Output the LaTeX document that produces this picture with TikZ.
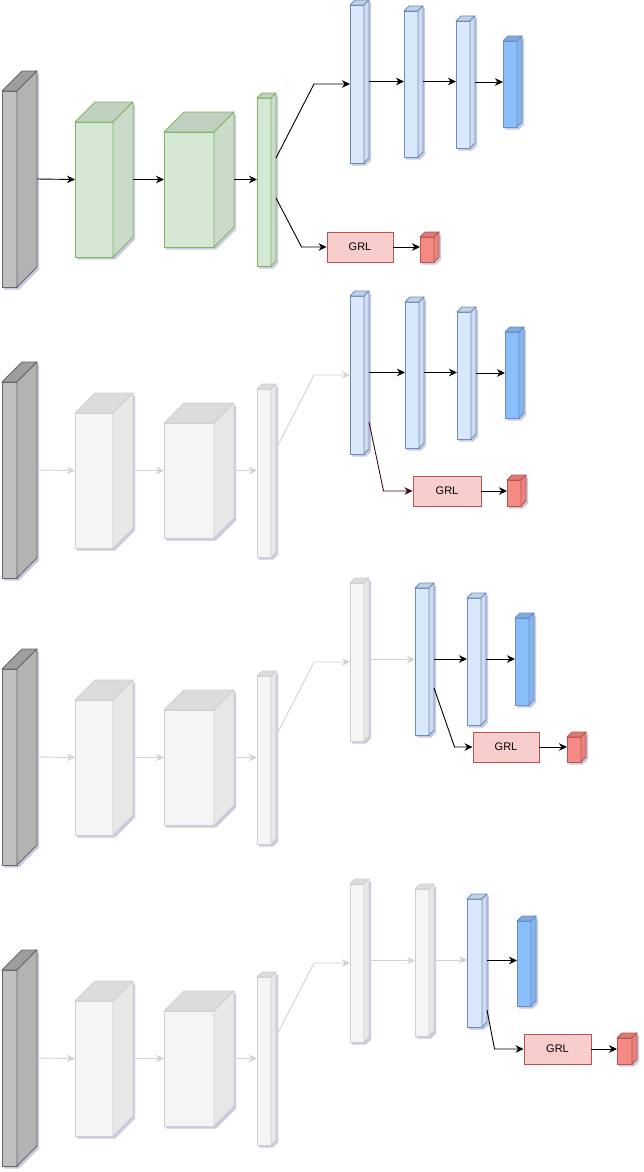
\documentclass[tikz,border=0pt]{standalone}
\usepackage{fontspec}
\setmainfont{Liberation Sans}
\usetikzlibrary{arrows.meta,calc}
\definecolor{shadowc}{HTML}{C9CCDF}
\definecolor{gyFront}{HTML}{C0C0C0}\definecolor{gySide}{HTML}{B3B3B3}\definecolor{gyTop}{HTML}{9E9E9E}\definecolor{gyStroke}{HTML}{666666}
\definecolor{gnFront}{HTML}{D5E8D4}\definecolor{gnSide}{HTML}{CADCC9}\definecolor{gnTop}{HTML}{C0D1BF}\definecolor{gnStroke}{HTML}{82B366}
\definecolor{blFront}{HTML}{DAE8FC}\definecolor{blSide}{HTML}{CFDCEF}\definecolor{blTop}{HTML}{C4D1E3}\definecolor{blStroke}{HTML}{6C8EBF}
\definecolor{boFront}{HTML}{8BBFFC}\definecolor{boSide}{HTML}{84B5EF}\definecolor{boTop}{HTML}{7DABE2}\definecolor{boStroke}{HTML}{6C8EBF}
\definecolor{rdFront}{HTML}{F58A85}\definecolor{rdSide}{HTML}{E9837E}\definecolor{rdTop}{HTML}{DC7C78}\definecolor{rdStroke}{HTML}{B85450}
\definecolor{fdFront}{HTML}{F5F5F5}\definecolor{fdSide}{HTML}{E8E8E8}\definecolor{fdTop}{HTML}{DCDCDC}\definecolor{fdStroke}{HTML}{D0D0D0}
\definecolor{grlFill}{HTML}{F8CECC}\definecolor{grlStroke}{HTML}{B85450}
\definecolor{fadeArrow}{HTML}{D3D3D3}
\definecolor{maroon}{HTML}{3D0A1F}
% name, L, T, R, B, depth, colour prefix
\newcommand\cuboid[7]{%
  \fill[shadowc] ({#2+2},{#3+#6+2.5}) -- ({#2+#6+2},{#3+2.5}) -- ({#4+2},{#3+2.5}) -- ({#4+2},{#5-#6+2.5}) -- ({#4-#6+2},{#5+2.5}) -- ({#2+2},{#5+2.5}) -- cycle;
  \node[anchor=north west, inner sep=0pt, outer sep=0pt, minimum width={#4-#2}, minimum height={#5-#3}] (#1) at (#2,#3) {};
  \filldraw[fill=#7Front, draw=#7Stroke, line width=0.9pt] (#2,{#3+#6}) rectangle ({#4-#6},#5);
  \filldraw[fill=#7Top, draw=#7Stroke, line width=0.9pt, line join=round] (#2,{#3+#6}) -- ({#2+#6},#3) -- (#4,#3) -- ({#4-#6},{#3+#6}) -- cycle;
  \filldraw[fill=#7Side, draw=#7Stroke, line width=0.9pt, line join=round] ({#4-#6},{#3+#6}) -- (#4,#3) -- (#4,{#5-#6}) -- ({#4-#6},#5) -- cycle;
}
\tikzset{
  arr/.style={-{Stealth[length=8pt,width=7.5pt,inset=2.5pt]}, line width=0.9pt, draw=black},
  farr/.style={arr, draw=fadeArrow},
  grl/.style={draw=grlStroke, fill=grlFill, line width=0.9pt, inner sep=0pt, minimum height=30pt, font=\fontsize{11}{13}\selectfont},
}
\begin{document}
\begin{tikzpicture}[x=1pt,y=-1pt]
\useasboundingbox[fill=white] (0,0) rectangle (644,1172);
% ---------- section 1 ----------
\cuboid{in1}{2}{71}{37}{287}{20}{gy}
\cuboid{ga1}{75}{102}{133}{257}{20}{gn}
\cuboid{gb1}{164}{112}{234}{247}{20}{gn}
\cuboid{gt1}{257}{93}{276}{266}{5}{gn}
\cuboid{ba1}{350}{0}{369}{163}{5}{bl}
\cuboid{bb1}{404}{6}{423}{157}{5}{bl}
\cuboid{bc1}{456}{16}{475}{148}{5}{bl}
\cuboid{bo1}{503}{36}{522}{127}{5}{bo}
\node[grl, minimum width=66pt] (grl1) at (360,247) {GRL};
\cuboid{rd1}{420}{232}{439}{262}{5}{rd}
\draw[arr] (in1.east) -- (ga1.west);
\draw[arr] (ga1.east) -- (gb1.west);
\draw[arr] (gb1.east) -- (gt1.west);
\draw[arr] ($(gt1.east)+(0,-21.5)$) -- ($(ba1.west)+(-36,2.5)$) -- ($(ba1.west)+(0,2.5)$);
\draw[arr] ($(gt1.east)+(0,18.5)$) -- ($(grl1.west)+(-25,0)$) -- (grl1.west);
\draw[arr] (ba1.east) -- (bb1.west |- ba1.east);
\draw[arr] (bb1.east) -- (bc1.west |- bb1.east);
\draw[arr] (bc1.east) -- (bo1.west |- bc1.east);
\draw[arr] (grl1.east) -- (rd1.west |- grl1.east);
% ---------- section 2 ----------
\cuboid{in2}{2}{362}{37}{578}{20}{gy}
\cuboid{ga2}{75}{393}{133}{548}{20}{fd}
\cuboid{gb2}{164}{403}{234}{538}{20}{fd}
\cuboid{gt2}{257}{384}{276}{557}{5}{fd}
\cuboid{ba2}{350}{291}{369}{454}{5}{bl}
\cuboid{bb2}{405}{297}{424}{448}{5}{bl}
\cuboid{bc2}{457}{307}{476}{439}{5}{bl}
\cuboid{bo2}{505}{327}{524}{418}{5}{bo}
\node[grl, minimum width=68pt] (grl2) at (447,491) {GRL};
\cuboid{rd2}{507}{475}{526}{506}{5}{rd}
\draw[farr] (in2.east) -- (ga2.west);
\draw[farr] (ga2.east) -- (gb2.west);
\draw[farr] (gb2.east) -- (gt2.west);
\draw[farr] ($(gt2.east)+(0,-21.5)$) -- ($(ba2.west)+(-36,2.5)$) -- ($(ba2.west)+(0,2.5)$);
\draw[arr] (ba2.east) -- (bb2.west |- ba2.east);
\draw[arr] (bb2.east) -- (bc2.west |- bb2.east);
\draw[arr] (bc2.east) -- (bo2.west |- bc2.east);
\draw[arr, draw=maroon] ($(ba2.east)+(0,49.5)$) -- ($(grl2.west)+(-29,0)$) -- (grl2.west);
\draw[arr] (grl2.east) -- (rd2.west |- grl2.east);
% ---------- section 3 ----------
\cuboid{in3}{2}{649}{37}{865}{20}{gy}
\cuboid{ga3}{75}{680}{133}{835}{20}{fd}
\cuboid{gb3}{164}{690}{234}{825}{20}{fd}
\cuboid{gt3}{257}{671}{276}{844}{5}{fd}
\cuboid{ba3}{350}{578}{369}{741}{5}{fd}
\cuboid{bb3}{415}{583}{434}{735}{5}{bl}
\cuboid{bc3}{467}{593}{486}{725}{5}{bl}
\cuboid{bo3}{515}{613}{534}{705}{5}{bo}
\node[grl, minimum width=66pt] (grl3) at (506,747) {GRL};
\cuboid{rd3}{567}{732}{586}{762}{5}{rd}
\draw[farr] (in3.east) -- (ga3.west);
\draw[farr] (ga3.east) -- (gb3.west);
\draw[farr] (gb3.east) -- (gt3.west);
\draw[farr] ($(gt3.east)+(0,-21.5)$) -- ($(ba3.west)+(-36,2.5)$) -- ($(ba3.west)+(0,2.5)$);
\draw[farr] (ba3.east) -- (bb3.west |- ba3.east);
\draw[arr] (bb3.east) -- (bc3.west |- bb3.east);
\draw[arr] (bc3.east) -- (bo3.west |- bc3.east);
\draw[arr] ($(bb3.east)+(0,29)$) -- ($(grl3.west)+(-18,0)$) -- (grl3.west);
\draw[arr] (grl3.east) -- (rd3.west |- grl3.east);
% ---------- section 4 ----------
\cuboid{in4}{2}{950}{37}{1166}{20}{gy}
\cuboid{ga4}{75}{981}{133}{1136}{20}{fd}
\cuboid{gb4}{164}{991}{234}{1126}{20}{fd}
\cuboid{gt4}{257}{972}{276}{1145}{5}{fd}
\cuboid{ba4}{350}{879}{369}{1042}{5}{fd}
\cuboid{bb4}{415}{884}{434}{1036}{5}{fd}
\cuboid{bc4}{467}{894}{487}{1027}{5}{bl}
\cuboid{bo4}{517}{916}{536}{1006}{5}{bo}
\node[grl, minimum width=67pt] (grl4) at (557.5,1049) {GRL};
\cuboid{rd4}{617}{1033}{637}{1064}{5}{rd}
\draw[farr] (in4.east) -- (ga4.west);
\draw[farr] (ga4.east) -- (gb4.west);
\draw[farr] (gb4.east) -- (gt4.west);
\draw[farr] ($(gt4.east)+(0,-21.5)$) -- ($(ba4.west)+(-36,2.5)$) -- ($(ba4.west)+(0,2.5)$);
\draw[farr] (ba4.east) -- (bb4.west |- ba4.east);
\draw[farr] (bb4.east) -- (bc4.west |- bb4.east);
\draw[arr] (bc4.east) -- (bo4.west |- bc4.east);
\draw[arr] ($(bc4.east)+(0,49.5)$) -- ($(grl4.west)+(-29,0)$) -- (grl4.west);
\draw[arr] (grl4.east) -- (rd4.west |- grl4.east);
\end{tikzpicture}
\end{document}
